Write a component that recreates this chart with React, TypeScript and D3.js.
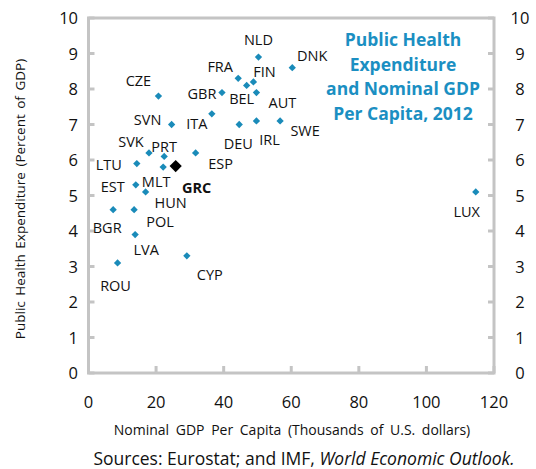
import React from "react";
import * as d3 from "d3";

const countries = ["NLD","DNK","FRA","FIN","BEL","AUT","GBR","CZE","ITA","SVN","DEU","IRL","SWE","SVK","PRT","ESP","LTU","MLT","GRC","EST","HUN","BGR","POL","LVA","CYP","ROU","LUX"];
const gdpPerCapita = [50.3,60.3,44.3,48.8,46.8,49.7,39.5,20.7,36.5,24.6,44.6,49.7,56.7,17.9,22.4,31.7,14.3,22.1,25.8,14.0,16.9,7.3,13.5,13.8,29.1,8.6,114.6];
const healthExp = [8.9,8.6,8.3,8.2,8.1,7.9,7.9,7.8,7.3,7.0,7.0,7.1,7.1,6.2,6.1,6.2,5.9,5.8,5.83,5.3,5.1,4.6,4.6,3.9,3.3,3.1,5.1];
const highlight = "GRC";
const xTicks = [0,20,40,60,80,100,120];
const yTicks = [0,1,2,3,4,5,6,7,8,9,10];
const titleLines = ["Public Health","Expenditure","and Nominal GDP","Per Capita, 2012"];

// label placement offsets (px) relative to each point
const labelOffsets: Record<string, [number, number]> = {
  NLD:[0,-17], DNK:[20,-12], FRA:[-18,-11], FIN:[11,-10], BEL:[-5,14], AUT:[26,10],
  GBR:[-20,1], CZE:[-20,-15], ITA:[-15,10], SVN:[-24,-5], DEU:[-1,19], IRL:[13,19],
  SWE:[25,10], SVK:[-18,-11], PRT:[0,-9], ESP:[25,11], LTU:[-28,1], MLT:[-7,15],
  GRC:[21,22], EST:[-23,2], HUN:[25,11], BGR:[-6,18], POL:[26,12], LVA:[11,15],
  CYP:[23,19], ROU:[-2,23], LUX:[-9,20],
};

const W = 536, H = 469;
const L = 88.5, R = 494, T = 18, B = 373;
const FONT = "'Open Sans', sans-serif";
const BLUE = "#1a8bb9";
const TITLE = "#1b8fc2";
const GRID = "#c4c4c4";

export default function App() {
  const x = d3.scaleLinear().domain([0, 120]).range([L, R]);
  const y = d3.scaleLinear().domain([0, 10]).range([B, T]);
  const diamond = d3.symbol().type(d3.symbolDiamond2);
  return (
    <svg width={W} height={H} style={{ position: "absolute", left: 0, top: 0 }} fontFamily={FONT}>
      <rect x={0} y={0} width={W} height={H} fill="#fff" />
      {/* frame */}
      <rect x={L} y={T} width={R - L} height={B - T} fill="none" stroke={GRID} strokeWidth={3} />
      {yTicks.map((t) => (
        <g key={"yt" + t}>
          <line x1={L} x2={L + 6} y1={y(t)} y2={y(t)} stroke={GRID} strokeWidth={3} />
          <line x1={R - 6} x2={R} y1={y(t)} y2={y(t)} stroke={GRID} strokeWidth={3} />
          <text x={78} y={y(t) + 6} textAnchor="end" fontSize={16.5} fill="#111">{t}</text>
          <text x={520} y={y(t) + 6} textAnchor="middle" fontSize={16.5} fill="#111">{t}</text>
        </g>
      ))}
      {xTicks.map((t) => (
        <g key={"xt" + t}>
          <line x1={x(t)} x2={x(t)} y1={B} y2={B - 7} stroke={GRID} strokeWidth={3} />
          <text x={x(t)} y={408} textAnchor="middle" fontSize={16.5} fill="#111">{t}</text>
        </g>
      ))}
      <text x={292} y={435} textAnchor="middle" fontSize={14} wordSpacing={3} fill="#111">
        Nominal GDP Per Capita (Thousands of U.S. dollars)
      </text>
      <text transform={`translate(25,199) rotate(-90)`} textAnchor="middle" fontSize={13.5} wordSpacing={2} fill="#111">
        Public Health Expenditure (Percent of GDP)
      </text>
      <text x={304} y={465} textAnchor="middle" fontSize={17.5} fill="#111">
        Sources: Eurostat; and IMF, <tspan fontStyle="italic">World Economic Outlook.</tspan>
      </text>
      {titleLines.map((s, i) => (
        <text key={s} x={403} y={46 + i * 24.5} textAnchor="middle" fontSize={17.5} fontWeight="bold" fill={TITLE}>{s}</text>
      ))}
      {countries.map((c, i) => {
        const px = x(gdpPerCapita[i]);
        const py = y(healthExp[i]);
        const isH = c === highlight;
        const off = labelOffsets[c];
        return (
          <g key={c}>
            <path d={diamond.size(isH ? 95 : 34)() as string} transform={`translate(${px},${py})`} fill={isH ? "#000" : BLUE} />
            <text x={px + off[0]} y={py + off[1] + 5} textAnchor="middle" fontSize={14.5} fontWeight={isH ? "bold" : "normal"} fill="#111">{c}</text>
          </g>
        );
      })}
    </svg>
  );
}
